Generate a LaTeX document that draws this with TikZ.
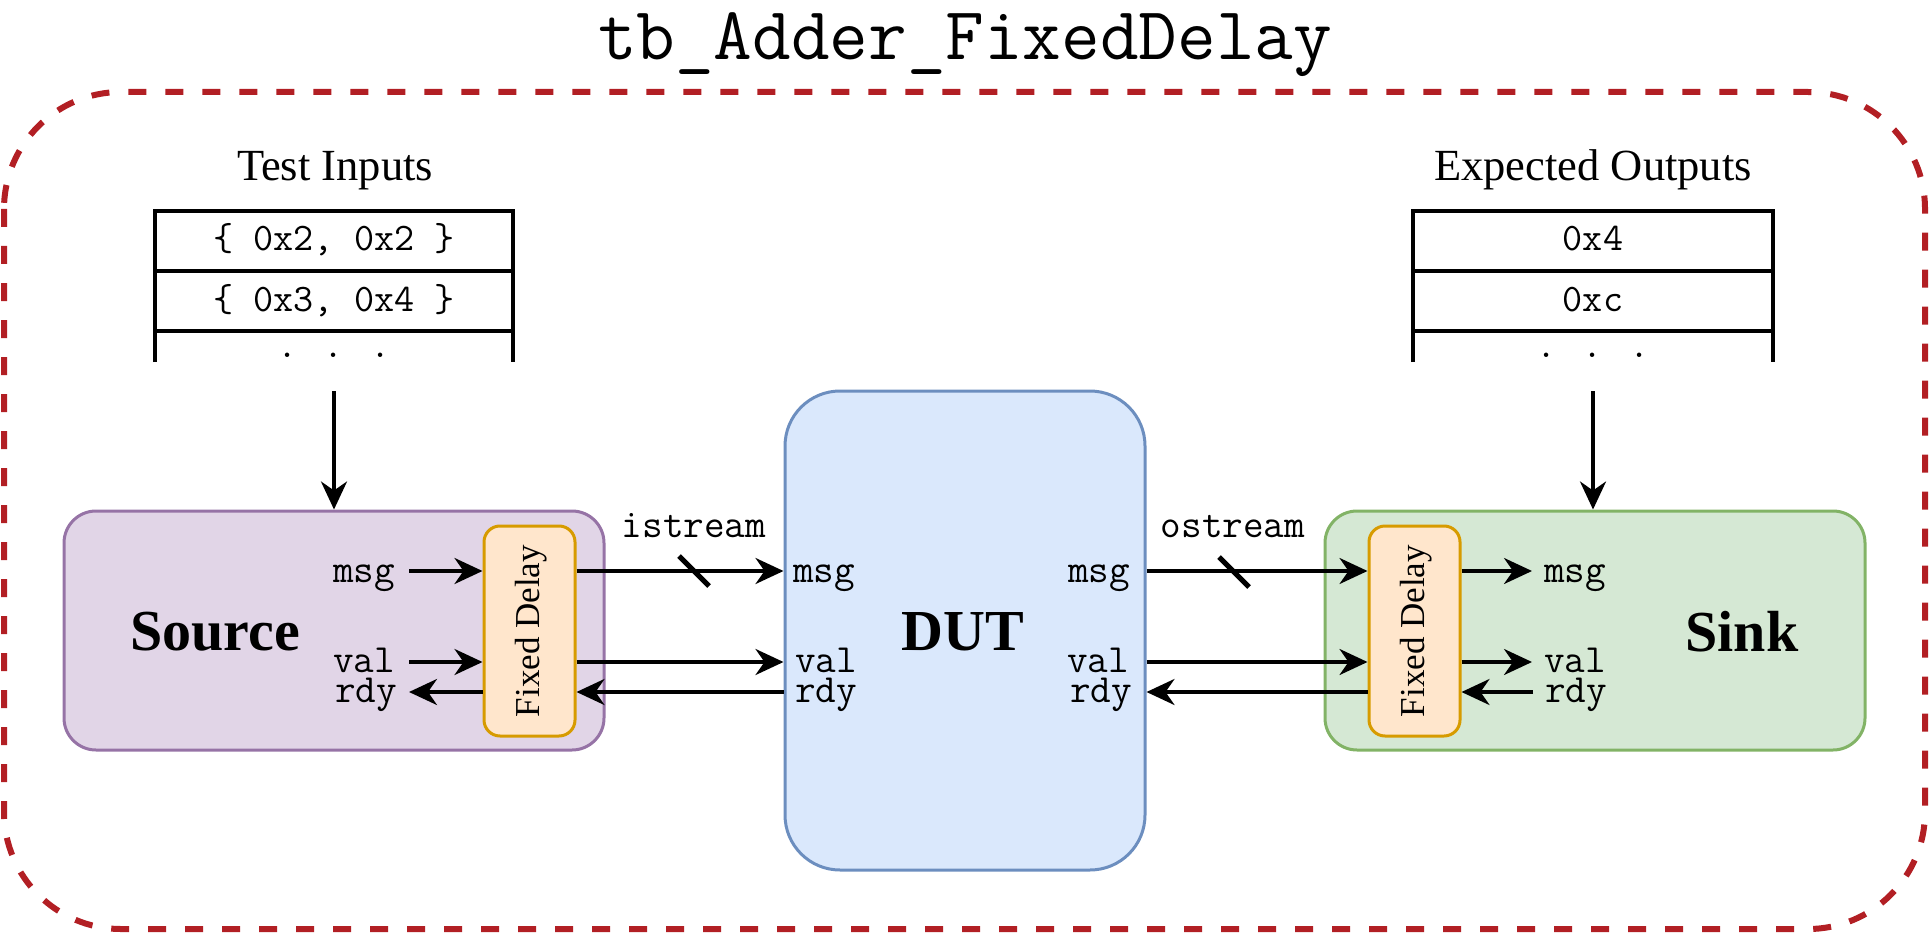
\documentclass[tikz,border=0pt]{standalone}
\usepackage{fontspec}
\setmainfont{Liberation Serif}
\usetikzlibrary{arrows.meta}
\definecolor{framered}{RGB}{178,31,36}
\definecolor{srcfill}{HTML}{E1D5E7}
\definecolor{srcline}{HTML}{9673A6}
\definecolor{fdfill}{HTML}{FFE6CC}
\definecolor{fdline}{HTML}{D79B00}
\definecolor{dutfill}{HTML}{DAE8FC}
\definecolor{dutline}{HTML}{6C8EBF}
\definecolor{snkfill}{HTML}{D5E8D4}
\definecolor{snkline}{HTML}{82B366}
\newcommand\mymono{\ttfamily\fontsize{40pt}{44pt}\selectfont}
\newcommand\mytbl{\ttfamily\fontsize{39pt}{44pt}\selectfont}
\newcommand\mytitle{\rmfamily\fontsize{44.5pt}{50pt}\selectfont}
\newcommand\mybold{\rmfamily\bfseries\fontsize{58pt}{64pt}\selectfont}
\tikzset{
  blockbox/.style={draw, rectangle, rounded corners=32pt, line width=3pt, minimum width=540pt, minimum height=239pt, inner sep=0pt},
  fdbox/.style={draw=fdline, fill=fdfill, rectangle, rounded corners=16pt, line width=3pt, minimum width=91pt, minimum height=210pt, inner sep=0pt},
  lbl/.style={inner sep=0pt, font=\mymono},
  cell/.style={inner sep=0pt, font=\mytbl},
  arr/.style={line width=3.5pt, -{Stealth[length=28pt,width=26pt,inset=9pt]}},
  tbl/.style={line width=4pt},
  slashmark/.style={line width=5pt},
  frame/.style={draw=framered, line width=6pt, dash pattern=on 18pt off 19pt, rounded corners=117pt}
}
\begin{document}
\begin{tikzpicture}[x=1pt,y=-1pt]
\useasboundingbox (0,0) rectangle (1929,933);
% title and frame
\node[inner sep=0pt, anchor=base, font=\ttfamily\fontsize{75pt}{80pt}\selectfont] (title) at (965,60) {tb\_Adder\_FixedDelay};
\draw[frame] (4,92) rectangle (1925,929);

% row coordinates
\coordinate (ymsg) at (0,571);
\coordinate (yval) at (0,662);
\coordinate (yrdy) at (0,692);

% tables
\node[inner sep=0pt, anchor=base, font=\mytitle] (tinlab) at (335,181) {Test Inputs};
\draw[tbl] (155,362) -- (155,211) -- (513,211) -- (513,362);
\draw[tbl] (155,271) -- (513,271);
\draw[tbl] (155,331) -- (513,331);
\node[cell, anchor=base] (tin1) at (334,251) {\{ 0x2, 0x2 \}};
\node[cell, anchor=base] (tin2) at (334,311) {\{ 0x3, 0x4 \}};
\node[cell, anchor=base] (tin3) at (334,357) {. . .};
\coordinate (tinb) at (334,391);

\node[inner sep=0pt, anchor=base, font=\mytitle] (toutlab) at (1593,181) {Expected Outputs};
\draw[tbl] (1413,362) -- (1413,211) -- (1773,211) -- (1773,362);
\draw[tbl] (1413,271) -- (1773,271);
\draw[tbl] (1413,331) -- (1773,331);
\node[cell, anchor=base] (tout1) at (1593,251) {0x4};
\node[cell, anchor=base] (tout2) at (1593,311) {0xc};
\node[cell, anchor=base] (tout3) at (1593,357) {. . .};
\coordinate (toutb) at (1593,391);

% blocks
\node[blockbox, draw=srcline, fill=srcfill] (source) at (334,630.5) {};
\node[fdbox] (srcfd) at (529.5,631) {};
\node[rotate=90, inner sep=0pt, font=\rmfamily\fontsize{35pt}{38pt}\selectfont] (srcfdt) at (531,631) {Fixed Delay};
\node[inner sep=0pt, anchor=base, font=\mybold] (sourcet) at (215,650) {Source};

\node[draw=dutline, fill=dutfill, rectangle, rounded corners=55pt, line width=3pt, minimum width=360pt, minimum height=479pt, inner sep=0pt] (dut) at (965,630.5) {};
\node[inner sep=0pt, anchor=base, font=\mybold] (dutt) at (963,650) {DUT};

\node[blockbox, draw=snkline, fill=snkfill] (sink) at (1595,630.5) {};
\node[fdbox] (snkfd) at (1414.5,631) {};
\node[rotate=90, inner sep=0pt, font=\rmfamily\fontsize{35pt}{38pt}\selectfont] (snkfdt) at (1416,631) {Fixed Delay};
\node[inner sep=0pt, anchor=base, font=\mybold] (sinkt) at (1742,651) {Sink};

% source labels
\node[lbl, anchor=base east] (smsg) at (395,582) {msg};
\node[lbl, anchor=base east] (sval) at (395,672) {val};
\node[lbl, anchor=base east] (srdy) at (397,702) {rdy};
% dut labels
\node[lbl, anchor=base west] (dimsg) at (793,582) {msg};
\node[lbl, anchor=base west] (dival) at (795,672) {val};
\node[lbl, anchor=base west] (dirdy) at (795,702) {rdy};
\node[lbl, anchor=base east] (domsg) at (1130,582) {msg};
\node[lbl, anchor=base east] (doval) at (1129,672) {val};
\node[lbl, anchor=base east] (dordy) at (1132,702) {rdy};
% sink labels
\node[lbl, anchor=base west] (kmsg) at (1544,582) {msg};
\node[lbl, anchor=base west] (kval) at (1544,672) {val};
\node[lbl, anchor=base west] (krdy) at (1545,702) {rdy};
% stream labels
\node[lbl, anchor=base] (istream) at (694,537) {istream};
\node[lbl, anchor=base] (ostream) at (1233,537) {ostream};

% connectors from tables
\draw[arr] (tinb) -- (tinb |- source.north);
\draw[arr] (toutb) -- (toutb |- sink.north);

% source internal
\draw[arr] ([xshift=14pt]smsg.east |- ymsg) -- (srcfd.west |- ymsg);
\draw[arr] ([xshift=14pt]sval.east |- yval) -- (srcfd.west |- yval);
\draw[arr] (srcfd.west |- yrdy) -- ([xshift=12pt]srdy.east |- yrdy);

% source to dut
\draw[arr] (srcfd.east |- ymsg) -- (dut.west |- ymsg);
\draw[arr] (srcfd.east |- yval) -- (dut.west |- yval);
\draw[arr] (dut.west |- yrdy) -- (srcfd.east |- yrdy);
\draw[slashmark] (694,571) ++(-15,-15) -- ++(30,30);

% dut to sink
\draw[arr] (dut.east |- ymsg) -- (snkfd.west |- ymsg);
\draw[arr] (dut.east |- yval) -- (snkfd.west |- yval);
\draw[arr] (snkfd.west |- yrdy) -- (dut.east |- yrdy);
\draw[slashmark] (1234,572) ++(-15,-15) -- ++(30,30);

% sink internal
\draw[arr] (snkfd.east |- ymsg) -- ([xshift=-12pt]kmsg.west |- ymsg);
\draw[arr] (snkfd.east |- yval) -- ([xshift=-12pt]kval.west |- yval);
\draw[arr] ([xshift=-12pt]krdy.west |- yrdy) -- (snkfd.east |- yrdy);
\end{tikzpicture}
\end{document}
